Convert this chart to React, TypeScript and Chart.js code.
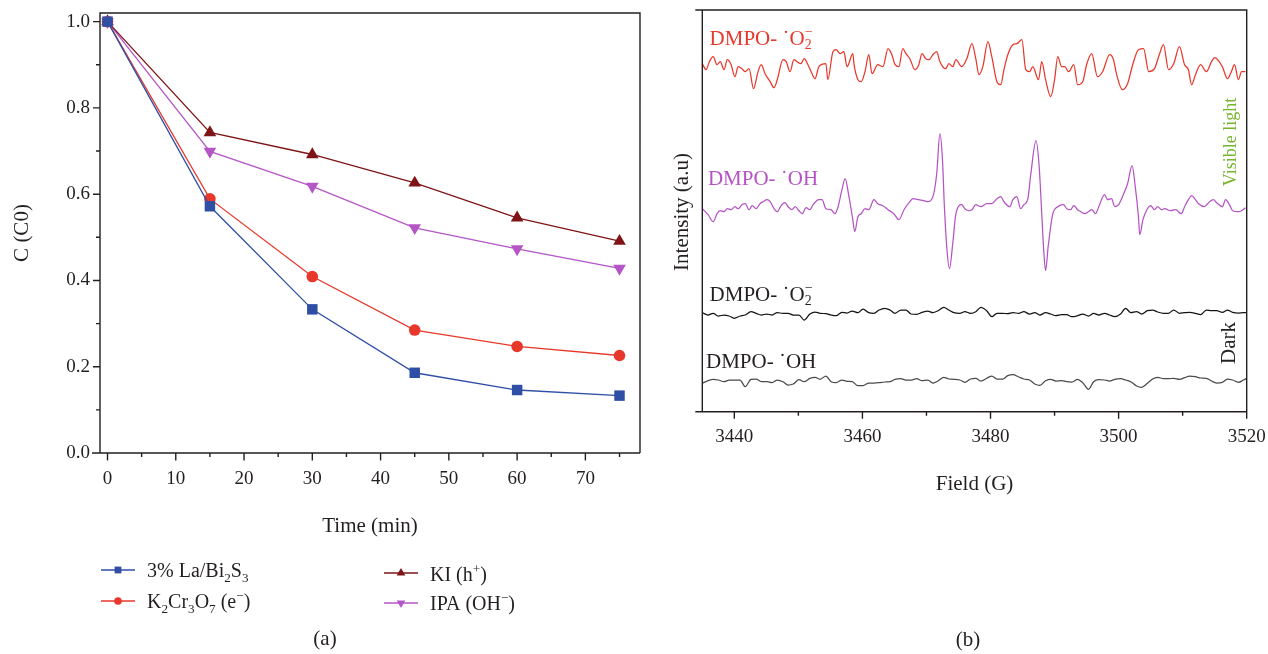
import React, { useEffect, useRef } from "react";
import { Chart, registerables } from "chart.js";

Chart.register(...registerables);

const FONT = '"Liberation Serif", "Times New Roman", Times, serif';
const INK = "#231f20";
const BLUE = "#2f4fa6";
const RED = "#e8382c";
const MAROON = "#7e1416";
const VIOLET = "#b456c6";
const TRACE_RED = "#e8382c";
const TRACE_VIOLET = "#b553c5";
const TRACE_BLACK = "#141414";
const TRACE_GRAY = "#4b4b4b";
const GREEN = "#78b52e";

// ---------- Panel (a): degradation with scavengers ----------
const timeMin = [0, 15, 30, 45, 60, 75];
const seriesLaBi2S3 = [1.0, 0.572, 0.333, 0.186, 0.146, 0.133];
const seriesK2Cr3O7 = [1.0, 0.589, 0.409, 0.285, 0.247, 0.226];
const seriesKI = [1.0, 0.743, 0.692, 0.626, 0.545, 0.491];
const seriesIPA = [1.0, 0.699, 0.618, 0.522, 0.473, 0.428];
const timeTicks = [0, 10, 20, 30, 40, 50, 60, 70];
const timeMinorTicks = [5, 15, 25, 35, 45, 55, 65, 75];
const cTicks = [0, 0.2, 0.4, 0.6, 0.8, 1.0];
const cMinorTicks = [0.1, 0.3, 0.5, 0.7, 0.9];

// ---------- Panel (b): EPR spectra ----------
const fieldTicks = [3440, 3460, 3480, 3500, 3520];
const fieldMinorTicks = [3450, 3470, 3490, 3510];

const lightO2Field = [
  3435.0, 3435.6, 3436.1, 3436.7, 3437.3, 3437.8, 3438.4, 3438.9, 3439.5, 3440.1,
  3440.6, 3441.2, 3441.7, 3442.3, 3443.0, 3443.7, 3444.2, 3444.8, 3445.6, 3446.2,
  3446.7, 3447.6, 3448.1, 3448.7, 3449.3, 3449.8, 3450.4, 3450.9, 3451.5, 3452.0,
  3452.6, 3453.2, 3454.3, 3454.6, 3455.4, 3455.9, 3456.5, 3457.1, 3457.6, 3458.5,
  3458.7, 3459.3, 3459.8, 3460.4, 3461.0, 3461.5, 3462.4, 3463.2, 3464.0, 3464.6,
  3465.1, 3465.7, 3466.3, 3466.8, 3467.4, 3468.2, 3468.8, 3469.3, 3469.9, 3470.4,
  3471.0, 3471.6, 3472.1, 3473.0, 3473.5, 3474.1, 3474.6, 3475.5, 3476.3, 3477.1,
  3477.7, 3478.2, 3478.8, 3479.6, 3480.2, 3481.0, 3481.6, 3482.1, 3482.7, 3483.5,
  3484.1, 3484.9, 3485.5, 3486.1, 3486.6, 3487.5, 3488.0, 3488.6, 3489.4, 3490.0,
  3490.5, 3491.1, 3491.6, 3492.2, 3493.0, 3493.6, 3494.4, 3495.0, 3495.8, 3496.7,
  3497.5, 3498.6, 3499.2, 3499.7, 3500.6, 3501.4, 3502.2, 3503.1, 3503.9, 3504.7,
  3505.6, 3506.4, 3507.0, 3507.8, 3508.6, 3509.5, 3510.3, 3510.9, 3511.4, 3512.0,
  3512.8, 3513.7, 3514.5, 3515.0, 3516.2, 3517.0, 3517.6, 3518.1, 3518.7, 3519.2,
  3519.8,
];
const lightO2Intensity = [
  348, 342, 350, 355, 347, 350, 342, 352, 347, 335,
  345, 343, 340, 343, 323, 340, 347, 338, 330, 324,
  332, 352, 350, 340, 352, 350, 348, 353, 347, 340,
  333, 345, 348, 332, 360, 362, 358, 360, 345, 358,
  347, 332, 330, 340, 357, 338, 347, 345, 363, 357,
  347, 345, 363, 358, 353, 342, 347, 358, 353, 352,
  357, 360, 350, 343, 348, 345, 352, 345, 353, 368,
  353, 337, 345, 370, 355, 330, 327, 342, 357, 367,
  368, 372, 342, 340, 345, 332, 350, 332, 315, 332,
  355, 345, 345, 340, 347, 327, 330, 347, 358, 335,
  340, 357, 352, 337, 322, 328, 347, 362, 363, 340,
  343, 358, 367, 342, 348, 365, 347, 342, 327, 337,
  347, 340, 350, 354, 345, 333, 340, 347, 332, 340,
  340,
];

const lightOHField = [
  3435.0, 3435.9, 3436.7, 3437.3, 3437.8, 3438.4, 3438.9, 3439.5, 3440.1, 3440.6,
  3441.2, 3441.7, 3442.3, 3442.8, 3443.4, 3444.0, 3444.5, 3445.1, 3445.6, 3446.2,
  3446.7, 3447.3, 3447.9, 3448.4, 3449.0, 3449.5, 3450.1, 3450.6, 3451.2, 3451.8,
  3452.3, 3453.2, 3453.7, 3454.3, 3455.1, 3455.7, 3456.2, 3456.8, 3457.3, 3457.9,
  3458.5, 3458.8, 3459.3, 3459.8, 3460.4, 3461.0, 3461.8, 3462.4, 3463.2, 3464.0,
  3464.9, 3465.7, 3466.5, 3467.4, 3467.9, 3468.8, 3469.6, 3470.2, 3471.0, 3471.6,
  3472.1, 3472.5, 3472.8, 3473.2, 3473.6, 3474.1, 3474.6, 3475.5, 3476.0, 3476.6,
  3477.1, 3477.7, 3478.5, 3479.4, 3480.2, 3481.0, 3481.6, 3482.1, 3483.0, 3483.5,
  3484.1, 3484.7, 3485.2, 3485.8, 3486.3, 3487.1, 3487.6, 3488.0, 3488.3, 3488.6,
  3489.0, 3489.7, 3490.5, 3491.4, 3491.9, 3492.5, 3493.0, 3493.6, 3494.1, 3494.7,
  3495.3, 3495.8, 3496.4, 3496.9, 3497.8, 3498.3, 3498.9, 3499.4, 3500.0, 3500.6,
  3501.4, 3502.1, 3502.6, 3503.1, 3503.3, 3503.8, 3504.5, 3505.0, 3505.6, 3506.1,
  3506.7, 3507.2, 3508.1, 3508.9, 3509.8, 3510.3, 3510.9, 3511.4, 3512.0, 3512.5,
  3513.4, 3514.2, 3514.8, 3515.3, 3516.2, 3516.7, 3517.3, 3517.8, 3518.7, 3519.2,
  3519.8,
];
const lightOHIntensity = [
  203, 197, 190, 198, 201, 200, 203, 202, 205, 203,
  207, 208, 202, 206, 203, 208, 210, 212, 210, 203,
  200, 206, 209, 205, 202, 205, 201, 198, 204, 202,
  207, 212, 212, 203, 202, 198, 205, 222, 233, 215,
  192, 180, 195, 198, 203, 202, 212, 208, 206, 202,
  198, 192, 202, 210, 213, 212, 211, 210, 215, 238,
  278, 252, 205, 162, 143, 168, 198, 207, 203, 201,
  202, 207, 205, 208, 208, 213, 215, 210, 205, 212,
  215, 203, 207, 212, 238, 271, 245, 198, 162, 141,
  165, 197, 205, 207, 203, 202, 206, 202, 200, 198,
  200, 202, 198, 205, 217, 212, 213, 205, 207, 215,
  228, 246, 225, 195, 177, 192, 203, 206, 202, 205,
  202, 203, 201, 202, 198, 205, 212, 216, 212, 208,
  205, 210, 212, 209, 205, 212, 207, 201, 200, 201,
  204,
];

const darkField = [
  3435.0, 3435.9, 3436.7, 3437.5, 3438.4, 3439.2, 3440.0, 3440.9, 3441.7, 3442.6,
  3443.4, 3444.2, 3445.1, 3445.9, 3446.7, 3447.6, 3448.4, 3449.2, 3450.1, 3450.9,
  3451.8, 3452.6, 3453.4, 3454.3, 3455.1, 3455.9, 3456.8, 3457.6, 3458.4, 3459.3,
  3460.1, 3461.0, 3461.8, 3462.6, 3463.5, 3464.3, 3465.1, 3466.0, 3466.8, 3467.6,
  3468.5, 3469.3, 3470.2, 3471.0, 3471.8, 3472.7, 3473.5, 3474.3, 3475.2, 3476.0,
  3476.9, 3477.7, 3478.5, 3479.4, 3480.2, 3481.0, 3481.9, 3482.7, 3483.5, 3484.4,
  3485.2, 3486.1, 3486.9, 3487.7, 3488.6, 3489.4, 3490.2, 3491.1, 3491.9, 3492.7,
  3493.6, 3494.4, 3495.3, 3496.1, 3496.9, 3497.8, 3498.6, 3499.4, 3500.3, 3501.1,
  3501.9, 3502.8, 3503.6, 3504.5, 3505.3, 3506.1, 3507.0, 3507.8, 3508.6, 3509.5,
  3510.3, 3511.1, 3512.0, 3512.8, 3513.7, 3514.5, 3515.3, 3516.2, 3517.0, 3517.8,
  3518.7, 3519.5, 3520.0,
];
const darkO2Intensity = [
  99, 96.7, 98.4, 95.7, 96.7, 95.7, 93.4, 95.7, 96.7, 100,
  98.4, 96.7, 97.7, 96.7, 99, 98.4, 98.4, 96.7, 96.7, 91.7,
  97.7, 99.7, 98.4, 98, 96.7, 96, 99.4, 98.7, 100.7, 99,
  102.7, 99, 98.4, 101.7, 103.4, 101.7, 98.4, 101.7, 101.7, 97.7,
  97.4, 99.4, 100.7, 99, 101, 104.4, 101.7, 99, 98.4, 100,
  98.4, 100, 104.4, 101, 95, 98.4, 98.4, 98, 99, 98.4,
  100, 97.7, 99, 96.7, 99, 97.7, 96, 97, 97, 95,
  96, 97.7, 95.7, 98.4, 96.7, 98.4, 96.7, 95, 97.7, 103.4,
  99, 100, 97.7, 101, 101.7, 99.7, 98.4, 98.4, 101.7, 98.4,
  99, 99.4, 98.4, 97, 101.7, 101, 101, 99.4, 101.7, 99.4,
  98.7, 99, 99,
];
const darkOHIntensity = [
  28.4, 31, 32.4, 31.7, 30, 31.7, 31.7, 31.7, 25, 32.4,
  32.7, 30, 30, 29, 31.7, 30, 26.7, 27.7, 32, 30,
  33.4, 34.4, 32.4, 35.7, 30, 29, 31.7, 30.4, 30, 26,
  26, 28.7, 28.7, 29, 29.7, 30, 32.4, 33, 31.7, 31.7,
  33, 31, 31.7, 28.7, 30.7, 34.4, 32.7, 32.4, 31.7, 29.4,
  32.7, 33.4, 30.7, 33.4, 35.7, 32.7, 32.7, 36, 37, 34.7,
  32.7, 31.7, 27.7, 26.4, 31, 32.4, 30.7, 31, 30, 29.7,
  32.4, 29, 22.4, 30, 32, 31.7, 30.7, 32.4, 33, 31.7,
  30, 25.7, 24.4, 28.4, 32.7, 34.4, 33, 33, 33.4, 32.4,
  34, 35.7, 35, 33.7, 33.4, 30.7, 28.7, 29.4, 32.7, 31.7,
  29.4, 31.7, 33.4,
];

// ---------- text helpers ----------
type Seg = { t: string; m?: "sub" | "sup" | "ss"; t2?: string };

function drawRich(
  ctx: CanvasRenderingContext2D,
  segs: Seg[],
  x: number,
  cy: number,
  size: number,
  color: string,
  align: "left" | "center" = "left"
) {
  const small = size * 0.66;
  const base = cy + size * 0.32;
  const big = `${size}px ${FONT}`;
  const sm = `${small}px ${FONT}`;
  const widthOf = (s: Seg) => {
    ctx.font = s.m ? sm : big;
    const w = ctx.measureText(s.t).width;
    return s.m === "ss" && s.t2 ? Math.max(w, ctx.measureText(s.t2).width) : w;
  };
  let total = 0;
  for (const s of segs) total += widthOf(s);
  let cx = align === "center" ? x - total / 2 : x;
  ctx.fillStyle = color;
  ctx.textAlign = "left";
  ctx.textBaseline = "alphabetic";
  for (const s of segs) {
    const w = widthOf(s);
    if (!s.m) ctx.fillText(s.t, cx, base);
    else if (s.m === "sub") ctx.fillText(s.t, cx, base + size * 0.22);
    else if (s.m === "sup") ctx.fillText(s.t, cx, base - size * 0.4);
    else {
      ctx.fillText(s.t, cx, base + size * 0.22);
      ctx.fillText(s.t2 || "", cx, base - size * 0.42);
    }
    cx += w;
  }
}

function drawRotated(ctx: CanvasRenderingContext2D, text: string, x: number, y: number, size: number, color: string) {
  ctx.save();
  ctx.translate(x, y);
  ctx.rotate(-Math.PI / 2);
  ctx.font = `${size}px ${FONT}`;
  ctx.fillStyle = color;
  ctx.textAlign = "center";
  ctx.textBaseline = "middle";
  ctx.fillText(text, 0, 0);
  ctx.restore();
}

function drawMarker(ctx: CanvasRenderingContext2D, kind: string, x: number, y: number, r: number, color: string) {
  ctx.fillStyle = color;
  ctx.beginPath();
  if (kind === "rect") ctx.rect(x - r, y - r, 2 * r, 2 * r);
  else if (kind === "circle") ctx.arc(x, y, r, 0, Math.PI * 2);
  else if (kind === "tri") {
    ctx.moveTo(x, y - r);
    ctx.lineTo(x + r * 0.866, y + r * 0.5);
    ctx.lineTo(x - r * 0.866, y + r * 0.5);
  } else {
    ctx.moveTo(x, y + r);
    ctx.lineTo(x + r * 0.866, y - r * 0.5);
    ctx.lineTo(x - r * 0.866, y - r * 0.5);
  }
  ctx.closePath();
  ctx.fill();
}

const legendLabels: Seg[][] = [
  [{ t: "3% La/Bi" }, { t: "2", m: "sub" }, { t: "S" }, { t: "3", m: "sub" }],
  [{ t: "K" }, { t: "2", m: "sub" }, { t: "Cr" }, { t: "3", m: "sub" }, { t: "O" }, { t: "7", m: "sub" }, { t: " (e" }, { t: "−", m: "sup" }, { t: ")" }],
  [{ t: "KI (h" }, { t: "+", m: "sup" }, { t: ")" }],
  [{ t: "IPA (OH" }, { t: "−", m: "sup" }, { t: ")" }],
];

const panelAPlugin = {
  id: "panelA",
  afterDraw(chart: any) {
    const { ctx, chartArea: a } = chart;
    const xs = chart.scales.x;
    const ys = chart.scales.y;
    ctx.save();
    ctx.strokeStyle = INK;
    ctx.lineWidth = 1.4;
    ctx.beginPath();
    ctx.moveTo(a.left - 8, a.bottom);
    ctx.lineTo(a.right, a.bottom);
    ctx.moveTo(a.left, a.bottom);
    ctx.lineTo(a.left, a.top);
    ctx.lineTo(a.right, a.top);
    ctx.lineTo(a.right, a.bottom);
    for (const v of timeTicks) {
      const p = xs.getPixelForValue(v);
      ctx.moveTo(p, a.bottom);
      ctx.lineTo(p, a.bottom + 7.5);
    }
    for (const v of timeMinorTicks) {
      const p = xs.getPixelForValue(v);
      ctx.moveTo(p, a.bottom);
      ctx.lineTo(p, a.bottom + 4);
    }
    for (const v of cTicks) {
      const p = ys.getPixelForValue(v);
      ctx.moveTo(a.left, p);
      ctx.lineTo(a.left - 7, p);
    }
    for (const v of cMinorTicks) {
      const p = ys.getPixelForValue(v);
      ctx.moveTo(a.left, p);
      ctx.lineTo(a.left - 4, p);
    }
    ctx.stroke();

    drawRich(ctx, [{ t: "Time (min)" }], (a.left + a.right) / 2, 525, 21, INK, "center");
    drawRotated(ctx, "C (C0)", 22, 233, 21, INK);

    // legend
    const items = [
      { segs: legendLabels[0], color: BLUE, kind: "rect", r: 3.4, x1: 101, x2: 135, y: 570, tx: 147, ty: 571 },
      { segs: legendLabels[1], color: RED, kind: "circle", r: 3.8, x1: 101, x2: 135, y: 601, tx: 147, ty: 602 },
      { segs: legendLabels[2], color: MAROON, kind: "tri", r: 5, x1: 384, x2: 418, y: 573, tx: 430, ty: 575 },
      { segs: legendLabels[3], color: VIOLET, kind: "triDown", r: 5, x1: 384, x2: 418, y: 603, tx: 430, ty: 604 },
    ];
    for (const it of items) {
      ctx.strokeStyle = it.color;
      ctx.lineWidth = 1.3;
      ctx.beginPath();
      ctx.moveTo(it.x1, it.y);
      ctx.lineTo(it.x2, it.y);
      ctx.stroke();
      drawMarker(ctx, it.kind, (it.x1 + it.x2) / 2, it.y, it.r, it.color);
      drawRich(ctx, it.segs, it.tx, it.ty, 20, INK);
    }
    drawRich(ctx, [{ t: "(a)" }], 325, 638, 21, INK, "center");
    ctx.restore();
  },
};

const panelBPlugin = {
  id: "panelB",
  afterDraw(chart: any) {
    const { ctx, chartArea: a } = chart;
    const xs = chart.scales.x;
    ctx.save();
    ctx.strokeStyle = INK;
    ctx.lineWidth = 1.4;
    ctx.beginPath();
    ctx.moveTo(a.left - 7, a.top);
    ctx.lineTo(a.right, a.top);
    ctx.lineTo(a.right, a.bottom);
    ctx.moveTo(a.left - 7, a.bottom);
    ctx.lineTo(a.right, a.bottom);
    ctx.moveTo(a.left, a.top);
    ctx.lineTo(a.left, a.bottom);
    for (const v of fieldTicks) {
      const p = xs.getPixelForValue(v);
      ctx.moveTo(p, a.bottom);
      ctx.lineTo(p, a.bottom + 7);
    }
    for (const v of fieldMinorTicks) {
      const p = xs.getPixelForValue(v);
      ctx.moveTo(p, a.bottom);
      ctx.lineTo(p, a.bottom + 4);
    }
    ctx.stroke();

    drawRotated(ctx, "Intensity (a.u)", 22, 212, 21, INK);
    drawRich(ctx, [{ t: "Field (G)" }], (a.left + a.right) / 2, 483, 21, INK, "center");
    drawRich(ctx, [{ t: "(b)" }], 308, 639, 21, INK, "center");

    const o2: Seg[] = [{ t: "DMPO- ˙O" }, { t: "2", m: "ss", t2: "−" }];
    const oh: Seg[] = [{ t: "DMPO- ˙OH" }];
    drawRich(ctx, o2, 49.6, 38, 21, TRACE_RED);
    drawRich(ctx, oh, 47.9, 178, 21, TRACE_VIOLET);
    drawRich(ctx, o2, 49.6, 294, 21, INK);
    drawRich(ctx, oh, 46, 361, 21, INK);

    drawRotated(ctx, "Visible light", 571, 142, 18, GREEN);
    drawRotated(ctx, "Dark", 569, 343, 21, INK);
    ctx.restore();
  },
};

function pointSeries(label: string, vals: number[], color: string, style: string, r: number, rot: number) {
  return {
    label,
    data: timeMin.map((t, i) => ({ x: t, y: vals[i] })),
    borderColor: color,
    backgroundColor: color,
    pointBackgroundColor: color,
    pointBorderColor: color,
    pointBorderWidth: 0,
    pointStyle: style,
    pointRadius: r,
    pointRotation: rot,
    borderWidth: 1.3,
    tension: 0,
  };
}

function trace(label: string, xs: number[], ys: number[], color: string) {
  return {
    label,
    data: xs.map((x, i) => ({ x, y: ys[i] })),
    borderColor: color,
    backgroundColor: color,
    borderWidth: 1.25,
    pointRadius: 0,
    cubicInterpolationMode: "monotone",
  };
}

function zeroPadding(s: any) {
  s.paddingLeft = 0;
  s.paddingRight = 0;
  s.paddingTop = 0;
  s.paddingBottom = 0;
}

export default function App() {
  const leftRef = useRef<HTMLCanvasElement>(null);
  const rightRef = useRef<HTMLCanvasElement>(null);

  useEffect(() => {
    Chart.defaults.font.family = FONT;
    const tickFont = { family: FONT, size: 19 };
    const left = new Chart(leftRef.current as HTMLCanvasElement, {
      type: "line",
      data: {
        datasets: [
          pointSeries("3% La/Bi2S3", seriesLaBi2S3, BLUE, "rect", 7.4, 0),
          pointSeries("K2Cr3O7 (e−)", seriesK2Cr3O7, RED, "circle", 5.8, 0),
          pointSeries("KI (h+)", seriesKI, MAROON, "triangle", 7.3, 0),
          pointSeries("IPA (OH−)", seriesIPA, VIOLET, "triangle", 7.3, 180),
        ] as any,
      },
      options: {
        responsive: false,
        animation: false,
        devicePixelRatio: 1,
        events: [],
        layout: { padding: { left: 0, top: 13, right: 20, bottom: 0 } },
        plugins: { legend: { display: false }, tooltip: { enabled: false } },
        scales: {
          x: {
            type: "linear",
            min: -1.1,
            max: 78,
            grid: { display: false, drawTicks: false },
            border: { display: false },
            afterBuildTicks: (s: any) => {
              s.ticks = timeTicks.map((v) => ({ value: v }));
            },
            afterFit: (s: any) => {
              s.height = 201;
              zeroPadding(s);
            },
            ticks: { font: tickFont, color: INK, padding: 15, maxRotation: 0, autoSkip: false, callback: (v: any) => String(v) },
          },
          y: {
            type: "linear",
            min: 0,
            max: 1.02,
            grid: { display: false, drawTicks: false },
            border: { display: false },
            afterBuildTicks: (s: any) => {
              s.ticks = cTicks.map((v) => ({ value: v }));
            },
            afterFit: (s: any) => {
              s.width = 100;
              zeroPadding(s);
            },
            ticks: { font: tickFont, color: INK, padding: 10, autoSkip: false, callback: (v: any) => Number(v).toFixed(1) },
          },
        },
      } as any,
      plugins: [panelAPlugin as any],
    });

    const right = new Chart(rightRef.current as HTMLCanvasElement, {
      type: "line",
      data: {
        datasets: [
          trace("DMPO-O2 visible", lightO2Field, lightO2Intensity, TRACE_RED),
          trace("DMPO-OH visible", lightOHField, lightOHIntensity, TRACE_VIOLET),
          trace("DMPO-O2 dark", darkField, darkO2Intensity, TRACE_BLACK),
          trace("DMPO-OH dark", darkField, darkOHIntensity, TRACE_GRAY),
        ] as any,
      },
      options: {
        responsive: false,
        animation: false,
        devicePixelRatio: 1,
        events: [],
        layout: { padding: { left: 42.3, top: 10, right: 21.3, bottom: 0 } },
        plugins: { legend: { display: false }, tooltip: { enabled: false } },
        scales: {
          x: {
            type: "linear",
            min: 3435,
            max: 3520,
            grid: { display: false, drawTicks: false },
            border: { display: false },
            afterBuildTicks: (s: any) => {
              s.ticks = fieldTicks.map((v) => ({ value: v }));
            },
            afterFit: (s: any) => {
              s.height = 242.3;
              zeroPadding(s);
            },
            ticks: { font: tickFont, color: INK, padding: 14, maxRotation: 0, autoSkip: false, callback: (v: any) => String(v) },
          },
          y: { type: "linear", display: false, min: 0, max: 401.7 },
        },
      } as any,
      plugins: [panelBPlugin as any],
    });

    return () => {
      left.destroy();
      right.destroy();
    };
  }, []);

  return (
    <div style={{ position: "fixed", left: 0, top: 0, width: 1268, height: 654, background: "#fff", overflow: "hidden" }}>
      <canvas ref={leftRef} width={660} height={654} style={{ position: "absolute", left: 0, top: 0, width: 660, height: 654 }} />
      <canvas ref={rightRef} width={608} height={654} style={{ position: "absolute", left: 660, top: 0, width: 608, height: 654 }} />
    </div>
  );
}
